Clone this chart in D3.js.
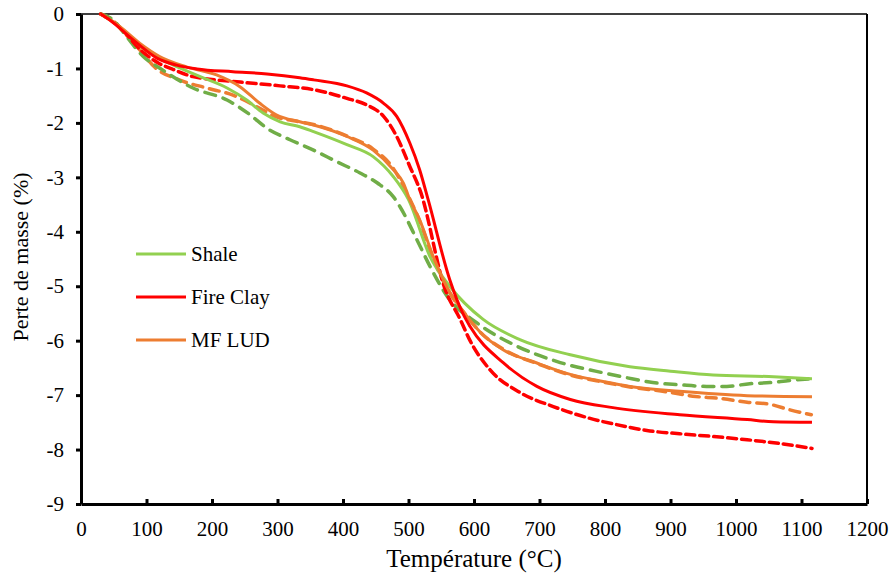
<!DOCTYPE html>
<html>
<head>
<meta charset="utf-8">
<script src="https://cdn.jsdelivr.net/npm/d3@7"></script>
<style>
  html, body { margin: 0; padding: 0; background: #fff; }
</style>
</head>
<body>
<svg id="chart" width="893" height="575"></svg>
<script>
// ---- Data (temperature °C, mass loss %) ----
const xTicks = [0, 100, 200, 300, 400, 500, 600, 700, 800, 900, 1000, 1100, 1200];
const yTicks = [0, -1, -2, -3, -4, -5, -6, -7, -8, -9];

const shaleT = [30, 44, 70, 95, 120, 141, 182, 223, 253, 278, 304, 334, 355, 406, 446, 477, 500, 533, 563, 614, 670, 747, 838, 900, 965, 1050, 1116];
const shaleY = [0, -0.1, -0.35, -0.63, -0.82, -0.94, -1.15, -1.36, -1.58, -1.82, -1.98, -2.07, -2.16, -2.4, -2.62, -2.99, -3.41, -4.46, -5.0, -5.61, -5.98, -6.26, -6.48, -6.56, -6.63, -6.66, -6.70];

const shaleDashT = [30, 50, 70, 95, 121, 171, 223, 258, 284, 319, 355, 390, 426, 452, 477, 487, 513, 533, 560, 604, 660, 726, 797, 833, 873, 914, 955, 986, 1021, 1052, 1082, 1116];
const shaleDashY = [0, -0.12, -0.42, -0.78, -1.0, -1.36, -1.58, -1.85, -2.1, -2.31, -2.5, -2.71, -2.92, -3.1, -3.36, -3.54, -4.15, -4.64, -5.2, -5.67, -6.07, -6.38, -6.59, -6.68, -6.77, -6.81, -6.84, -6.84, -6.79, -6.77, -6.73, -6.70];

const fireT = [30, 44, 80, 116, 146, 177, 232, 284, 334, 355, 406, 436, 462, 482, 502, 517, 530, 563, 583, 594, 645, 696, 747, 812, 914, 1017, 1057, 1116];
const fireY = [0, -0.11, -0.48, -0.81, -0.94, -1.01, -1.06, -1.1, -1.17, -1.21, -1.32, -1.45, -1.64, -1.88, -2.37, -2.86, -3.41, -4.88, -5.5, -5.74, -6.41, -6.84, -7.08, -7.23, -7.36, -7.45, -7.49, -7.50];

const fireDashT = [30, 60, 90, 118, 141, 171, 243, 304, 355, 406, 436, 462, 482, 502, 518, 556, 579, 594, 624, 670, 721, 772, 833, 864, 914, 965, 1017, 1067, 1116];
const fireDashY = [0, -0.25, -0.65, -0.9, -1.02, -1.15, -1.25, -1.32, -1.39, -1.55, -1.67, -1.88, -2.25, -2.8, -3.25, -5.06, -5.61, -6.0, -6.53, -6.95, -7.21, -7.41, -7.58, -7.65, -7.71, -7.76, -7.82, -7.89, -7.98];

const mfT = [30, 60, 90, 120, 161, 207, 242, 273, 298, 334, 355, 406, 446, 477, 492, 502, 517, 538, 558, 589, 610, 645, 696, 747, 797, 838, 914, 1017, 1116];
const mfY = [0, -0.24, -0.54, -0.78, -0.97, -1.12, -1.33, -1.64, -1.85, -1.98, -2.04, -2.25, -2.5, -2.86, -3.1, -3.41, -3.78, -4.46, -5.0, -5.55, -5.85, -6.17, -6.41, -6.62, -6.75, -6.84, -6.93, -7.01, -7.03];

const mfDashT = [30, 45, 65, 92, 112, 150, 192, 232, 268, 298, 334, 355, 406, 446, 477, 502, 517, 538, 558, 589, 610, 645, 696, 747, 797, 838, 900, 934, 975, 1017, 1052, 1082, 1115];
const mfDashY = [0, -0.08, -0.33, -0.69, -0.97, -1.21, -1.36, -1.49, -1.70, -1.89, -1.98, -2.03, -2.24, -2.48, -2.84, -3.4, -3.8, -4.5, -5.02, -5.55, -5.85, -6.16, -6.42, -6.63, -6.76, -6.85, -6.95, -7.02, -7.06, -7.13, -7.17, -7.27, -7.36];

const seriesNames = ["Shale", "Fire Clay", "MF LUD"];
const seriesColors = ["#92D050", "#FF0000", "#ED7D31"];
const dashColors = ["#70AD47", "#FF0000", "#ED7D31"];

// ---- Layout ----
const svg = d3.select("#chart");
const mLeft = 81, mRight = 867, mTop = 14, mBottom = 504;
const serif = '"Liberation Serif"';

const x = d3.scaleLinear().domain([0, 1200]).range([mLeft, mRight]);
const y = d3.scaleLinear().domain([-9, 0]).range([mBottom, mTop]);

// frame (top and right)
svg.append("line").attr("x1", mLeft).attr("x2", mRight).attr("y1", mTop).attr("y2", mTop)
  .attr("stroke", "#000").attr("stroke-width", 1.5);
svg.append("line").attr("x1", mRight).attr("x2", mRight).attr("y1", mTop).attr("y2", mBottom)
  .attr("stroke", "#000").attr("stroke-width", 2);

// ---- Lines ----
const line = d3.line().x(d => x(d[0])).y(d => y(d[1])).curve(d3.curveMonotoneX);
const zip = (a, b) => a.map((v, i) => [v, b[i]]);

const lines = [
  { data: zip(mfDashT, mfDashY), color: dashColors[2], w: 3.5, dash: "10,7" },
  { data: zip(shaleDashT, shaleDashY), color: dashColors[0], w: 3.5, dash: "11,8" },
  { data: zip(fireDashT, fireDashY), color: dashColors[1], w: 3.5, dash: "9,5" },
  { data: zip(shaleT, shaleY), color: seriesColors[0], w: 3, dash: null },
  { data: zip(mfT, mfY), color: seriesColors[2], w: 3, dash: null },
  { data: zip(fireT, fireY), color: seriesColors[1], w: 3, dash: null }
];

const g = svg.append("g");
lines.forEach(l => {
  g.append("path").attr("d", line(l.data)).attr("fill", "none")
    .attr("stroke", l.color).attr("stroke-width", l.w)
    .attr("stroke-dasharray", l.dash).attr("stroke-linecap", l.dash ? "round" : "butt")
    .attr("stroke-linejoin", "round");
});

// ---- Axes ----
const yAxis = svg.append("g").attr("transform", `translate(${mLeft},0)`)
  .call(d3.axisLeft(y).tickValues(yTicks).tickFormat(d => String(d)).tickSizeInner(5).tickSizeOuter(0).tickPadding(12));
const xAxis = svg.append("g").attr("transform", `translate(0,${mBottom})`)
  .call(d3.axisBottom(x).tickValues(xTicks).tickFormat(d => String(d)).tickSizeInner(-5).tickSizeOuter(0).tickPadding(17));

[yAxis, xAxis].forEach(a => {
  a.select(".domain").attr("stroke", "#000").attr("stroke-width", 3);
  a.selectAll(".tick line").attr("stroke", "#000").attr("stroke-width", 3);
  a.selectAll(".tick text").attr("fill", "#000")
    .style("font-family", serif).style("font-size", "21px");
});

// axis titles
svg.append("text").attr("x", (mLeft + mRight) / 2).attr("y", 567).attr("text-anchor", "middle")
  .style("font-family", serif).style("font-size", "25px").attr("fill", "#000").text("Température (°C)");
svg.append("text").attr("transform", "translate(28,257) rotate(-90)").attr("text-anchor", "middle")
  .style("font-family", serif).style("font-size", "22px").attr("fill", "#000").text("Perte de masse (%)");

// ---- Legend ----
const legY = [254, 297, 340];
seriesNames.forEach((name, i) => {
  svg.append("line").attr("x1", 136).attr("x2", 186).attr("y1", legY[i]).attr("y2", legY[i])
    .attr("stroke", seriesColors[i]).attr("stroke-width", 3);
  svg.append("text").attr("x", 191).attr("y", legY[i] + 7)
    .style("font-family", serif).style("font-size", "21px")
    .attr("fill", "#000").text(name);
});
</script>
</body>
</html>
